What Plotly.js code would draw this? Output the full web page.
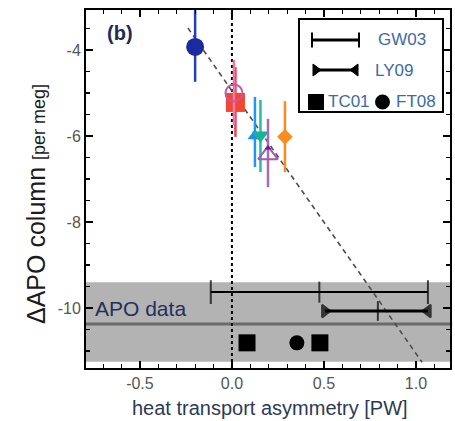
<!DOCTYPE html>
<html>
<head>
<meta charset="utf-8">
<script src="https://cdn.plot.ly/plotly-3.0.1.min.js"></script>
<style>
  html, body { margin: 0; padding: 0; background: #fff; }
  #chart { width: 455px; height: 421px; }
</style>
</head>
<body>
<div id="chart"></div>
<script>
// Model estimates: heat transport asymmetry [PW] vs APO column [per meg]
const modelNames = ['blueCircle', 'redSquare', 'pinkRing', 'blueTri', 'tealTri', 'purpleTri', 'purpleDot', 'orangeDiamond'];
const modelX     = [-0.20, 0.019, 0.011, 0.125, 0.155, 0.196, 0.196, 0.288];
const modelY     = [-3.93, -5.22, -5.00, -6.00, -5.98, -6.44, -6.28, -6.02];
const modelTop   = [-3.07, -4.40, -4.23, -5.09, -5.16, -5.60, -6.28, -5.19];
const modelBot   = [-4.74, -6.02, -5.75, -6.72, -6.84, -7.19, -6.28, -6.84];

// Regression line through the model points
const fitX = [-0.239, 1.033];
const fitY = [-3.49, -11.26];

// Observational constraint band and the observed APO value
const apoBand  = [-11.25, -9.40];
const apoValue = [-10.37];

// Heat transport estimates (low, central, high) and their row heights
const gw03Range = [-0.115, 0.475, 1.065];
const gw03Y     = -9.63;
const ly09Range = [0.505, 0.793, 1.065];
const ly09Y     = -10.07;
const tc01X = [0.082, 0.478];
const ft08X = [0.353];
const markerRowY = -10.81;

// Tick labels
const xTickVals = [-0.5, 0.0, 0.5, 1.0];
const xTickText = ['-0.5', '0.0', '0.5', '1.0'];
const yTickVals = [-10, -8, -6, -4];
const yTickText = ['-10', '-8', '-6', '-4'];

// Marker styling, one entry per model
const modelStyle = [
  { color: '#1b2a9c', bar: '#2340b8', symbol: 'circle', size: 18 },
  { color: '#f4472f', bar: '#ee3f52', symbol: 'square', size: 19 },
  { color: '#c25aa6', bar: '#ef78a8', symbol: 'circle-open', size: 17, open: true },
  { color: '#1e8ff0', bar: '#2196f3', symbol: 'triangle-up', size: 13 },
  { color: '#17b19c', bar: '#1fbfa8', symbol: 'triangle-down', size: 15 },
  { color: '#a25cb5', bar: '#a66ab8', symbol: 'triangle-up-open', size: 17, open: true },
  { color: '#7a1a86', bar: '#7a1a86', symbol: 'triangle-up', size: 6 },
  { color: '#ff8a1c', bar: '#ff8a1c', symbol: 'diamond', size: 12 }
];

const FONT = 'Liberation Sans, Arial, sans-serif';
const traces = [];

// Dashed regression line
traces.push({
  x: fitX, y: fitY, mode: 'lines', hoverinfo: 'skip',
  line: { color: '#4d4d4d', width: 1.6, dash: '5px,4px' }
});

// Model points with vertical uncertainty bars
modelNames.forEach((name, i) => {
  const s = modelStyle[i];
  traces.push({
    name: name,
    x: [modelX[i]], y: [modelY[i]], mode: 'markers',
    marker: {
      symbol: s.symbol, size: s.size, color: s.color,
      line: { color: s.color, width: s.open ? 2 : 0 }
    },
    error_y: {
      type: 'data', symmetric: false,
      array: [modelTop[i] - modelY[i]],
      arrayminus: [modelY[i] - modelBot[i]],
      color: s.bar, thickness: 2.5, width: 0
    }
  });
});

// GW03 range with end caps and central tick
traces.push({
  x: gw03Range, y: gw03Range.map(() => gw03Y), mode: 'lines+markers',
  line: { color: '#000', width: 2 },
  marker: { symbol: 'line-ns', size: [17, 15, 17], line: { color: '#000', width: 2 } }
});

// LY09 range with triangular ends and central tick
traces.push({
  x: ly09Range, y: ly09Range.map(() => ly09Y), mode: 'lines+markers',
  line: { color: '#000', width: 3 },
  marker: {
    symbol: ['triangle-right', 'line-ns', 'triangle-left'],
    size: [11, 14, 11], color: '#000', line: { color: '#000', width: 2 }
  }
});

// TC01 and FT08 estimates
traces.push({
  x: tc01X, y: tc01X.map(() => markerRowY), mode: 'markers',
  marker: { symbol: 'square', size: 17, color: '#000' }
});
traces.push({
  x: ft08X, y: ft08X.map(() => markerRowY), mode: 'markers',
  marker: { symbol: 'circle', size: 15, color: '#000' }
});

// Plot-area pixel helpers for the key box
const L = 86, T = 10, PW = 364, PH = 358;
const fx = p => (p - L) / PW;
const fy = p => (T + PH - p) / PH;

const shapes = [
  // grey observational band
  { type: 'rect', xref: 'paper', yref: 'y', x0: 0, x1: 1, y0: apoBand[0], y1: apoBand[1],
    fillcolor: '#b3b3b3', line: { width: 0 }, layer: 'below' },
  // observed APO
  { type: 'line', xref: 'paper', yref: 'y', x0: 0, x1: 1.006, y0: apoValue[0], y1: apoValue[0],
    line: { color: '#6a6a6a', width: 3 }, layer: 'below' },
  // zero heat transport asymmetry
  { type: 'line', xref: 'x', yref: 'paper', x0: 0, x1: 0, y0: 0, y1: 1,
    line: { color: '#000', width: 2, dash: 'dot' }, layer: 'below' },
  // key box
  { type: 'rect', xref: 'paper', yref: 'paper', x0: fx(299), x1: fx(443), y0: fy(112), y1: fy(19),
    fillcolor: '#fff', line: { color: '#000', width: 2 } },
  // GW03 key symbol
  { type: 'line', xref: 'paper', yref: 'paper', x0: fx(312), x1: fx(359), y0: fy(40), y1: fy(40),
    line: { color: '#000', width: 3 } },
  { type: 'line', xref: 'paper', yref: 'paper', x0: fx(312), x1: fx(312), y0: fy(32.5), y1: fy(47.5),
    line: { color: '#000', width: 2 } },
  { type: 'line', xref: 'paper', yref: 'paper', x0: fx(359), x1: fx(359), y0: fy(32.5), y1: fy(47.5),
    line: { color: '#000', width: 2 } },
  // LY09 key symbol
  { type: 'line', xref: 'paper', yref: 'paper', x0: fx(313), x1: fx(358), y0: fy(70), y1: fy(70),
    line: { color: '#000', width: 3 } },
  { type: 'path', xref: 'paper', yref: 'paper',
    path: `M${fx(313)},${fy(64)} L${fx(313)},${fy(76)} L${fx(321)},${fy(70)} Z`,
    fillcolor: '#000', line: { color: '#000', width: 1 } },
  { type: 'path', xref: 'paper', yref: 'paper',
    path: `M${fx(358)},${fy(64)} L${fx(358)},${fy(76)} L${fx(350)},${fy(70)} Z`,
    fillcolor: '#000', line: { color: '#000', width: 1 } },
  // TC01 / FT08 key symbols
  { type: 'rect', xref: 'paper', yref: 'paper', x0: fx(308), x1: fx(324), y0: fy(110), y1: fy(94),
    fillcolor: '#000', line: { width: 0 } },
  { type: 'circle', xref: 'paper', yref: 'paper', x0: fx(375), x1: fx(390), y0: fy(109.5), y1: fy(94.5),
    fillcolor: '#000', line: { width: 0 } }
];

const keyFont = { family: FONT, size: 17, color: '#3d6aa6' };
const annotations = [
  { text: 'GW03', xref: 'paper', yref: 'paper', x: fx(376), y: fy(40), xanchor: 'left', yanchor: 'middle', showarrow: false, font: keyFont },
  { text: 'LY09', xref: 'paper', yref: 'paper', x: fx(373), y: fy(70), xanchor: 'left', yanchor: 'middle', showarrow: false, font: keyFont },
  { text: 'TC01', xref: 'paper', yref: 'paper', x: fx(326), y: fy(102), xanchor: 'left', yanchor: 'middle', showarrow: false, font: keyFont },
  { text: 'FT08', xref: 'paper', yref: 'paper', x: fx(394), y: fy(102), xanchor: 'left', yanchor: 'middle', showarrow: false, font: keyFont },
  { text: '<b>(b)</b>', xref: 'paper', yref: 'paper', x: fx(120), y: fy(33), xanchor: 'center', yanchor: 'middle', showarrow: false,
    font: { family: FONT, size: 20, color: '#1f2a57' } },
  { text: 'APO data', xref: 'paper', yref: 'y', x: fx(93), y: -10.0, xanchor: 'left', yanchor: 'middle', showarrow: false,
    font: { family: FONT, size: 21, color: '#24305a' } },
  { text: 'ΔAPO column <span style="font-size:18px">[per meg]</span>', xref: 'paper', yref: 'paper',
    x: fx(36), y: fy(204), xanchor: 'center', yanchor: 'middle', textangle: -90, showarrow: false,
    font: { family: FONT, size: 25, color: '#1c1c1c' } },
  { text: 'heat transport asymmetry [PW]', xref: 'paper', yref: 'paper',
    x: fx(270), y: fy(408), xanchor: 'center', yanchor: 'middle', showarrow: false,
    font: { family: FONT, size: 20, color: '#2b3a55' } }
];

const axisCommon = {
  showline: true, linecolor: '#000', linewidth: 2, mirror: 'ticks',
  ticks: 'inside', ticklen: 7, tickwidth: 1.5, tickcolor: '#000',
  showgrid: false, zeroline: false, tickmode: 'array',
  tickfont: { family: FONT, size: 16, color: '#555' }
};

const layout = {
  width: 455, height: 421,
  margin: { l: L, r: 455 - L - PW, t: T, b: 421 - T - PH },
  paper_bgcolor: '#fff', plot_bgcolor: '#fff',
  showlegend: false,
  xaxis: Object.assign({}, axisCommon, {
    range: [-0.793, 1.185], tickvals: xTickVals, ticktext: xTickText,
    minor: { tick0: 0, dtick: 0.1, ticks: 'inside', ticklen: 4, tickwidth: 1.2, tickcolor: '#000' }
  }),
  yaxis: Object.assign({}, axisCommon, {
    range: [-11.395, -3.07], tickvals: yTickVals, ticktext: yTickText,
    minor: { tick0: 0, dtick: 0.5, ticks: 'inside', ticklen: 4, tickwidth: 1.2, tickcolor: '#000' }
  }),
  shapes: shapes,
  annotations: annotations
};

Plotly.newPlot('chart', traces, layout, { staticPlot: true, displayModeBar: false });
</script>
</body>
</html>
